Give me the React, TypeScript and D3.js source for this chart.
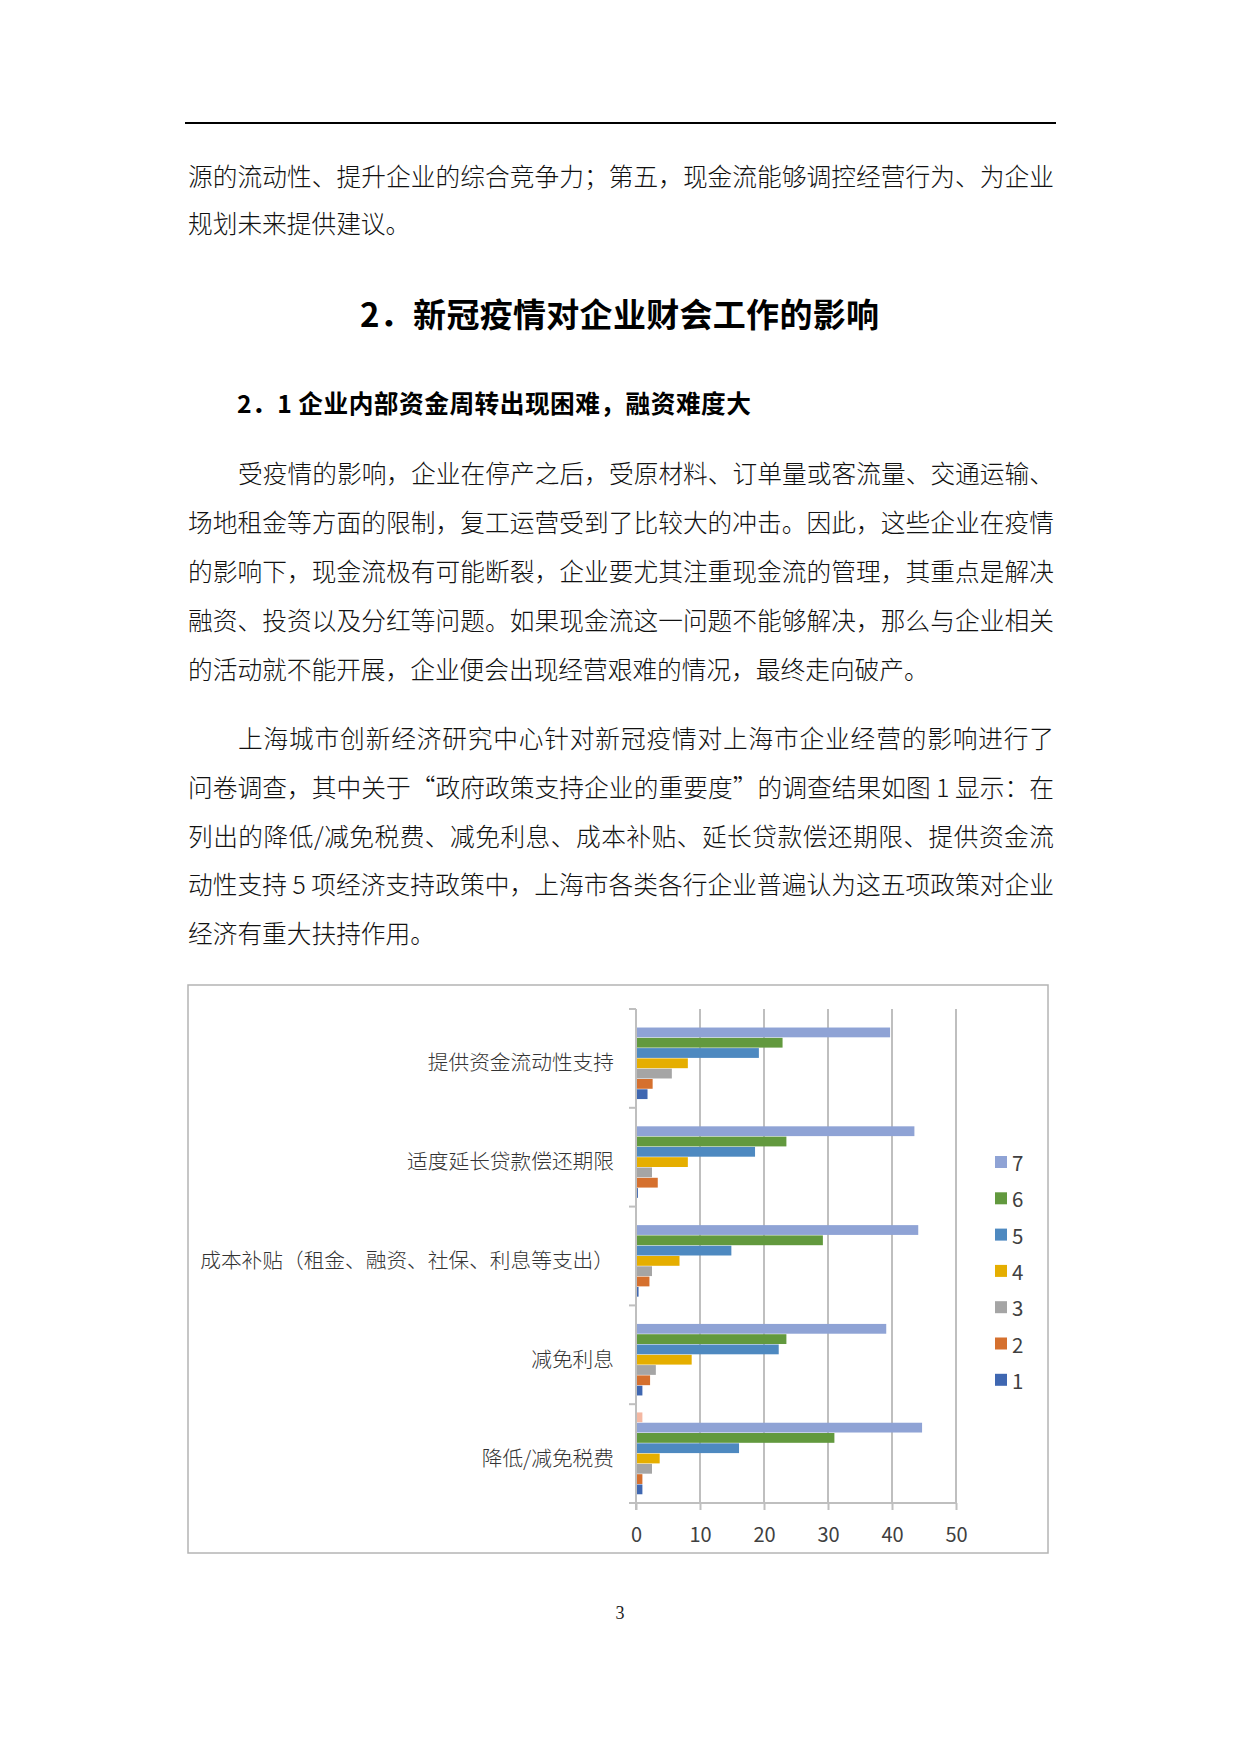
import { useEffect, useRef } from "react";
import * as d3 from "d3";

// categories in sheet order (Excel draws the first one at the bottom)
const categories = [
  "降低/减免税费",
  "减免利息",
  "成本补贴（租金、融资、社保、利息等支出）",
  "适度延长贷款偿还期限",
  "提供资金流动性支持",
];

const seriesNames = ["1", "2", "3", "4", "5", "6", "7", "8"];
const legendNames = ["7", "6", "5", "4", "3", "2", "1"];

const s1 = [1.0, 1.0, 0.4, 0.3, 1.8];
const s2 = [1.0, 2.2, 2.1, 3.4, 2.6];
const s3 = [2.5, 3.1, 2.5, 2.5, 5.6];
const s4 = [3.7, 8.7, 6.8, 8.1, 8.1];
const s5 = [16.1, 22.3, 14.9, 18.6, 19.2];
const s6 = [31.0, 23.5, 29.2, 23.5, 22.9];
const s7 = [44.7, 39.1, 44.1, 43.5, 39.7];
const s8 = [1.0, 0, 0, 0, 0];
const seriesValues = [s1, s2, s3, s4, s5, s6, s7, s8];

const seriesColors = [
  "#3f67b1",
  "#d5702e",
  "#a5a5a5",
  "#e5ae00",
  "#4e89c0",
  "#62993e",
  "#8fa3d5",
  "#f4b8a2",
];

const xTicks = [0, 10, 20, 30, 40, 50];

// page text
const topLines = [
  "源的流动性、提升企业的综合竞争力；第五，现金流能够调控经营行为、为企业",
  "规划未来提供建议。",
];
const heading = "2．新冠疫情对企业财会工作的影响";
const subHeading = "2．1 企业内部资金周转出现困难，融资难度大";
const para1 = [
  "受疫情的影响，企业在停产之后，受原材料、订单量或客流量、交通运输、",
  "场地租金等方面的限制，复工运营受到了比较大的冲击。因此，这些企业在疫情",
  "的影响下，现金流极有可能断裂，企业要尤其注重现金流的管理，其重点是解决",
  "融资、投资以及分红等问题。如果现金流这一问题不能够解决，那么与企业相关",
  "的活动就不能开展，企业便会出现经营艰难的情况，最终走向破产。",
];
const para2 = [
  "上海城市创新经济研究中心针对新冠疫情对上海市企业经营的影响进行了",
  "问卷调查，其中关于“政府政策支持企业的重要度”的调查结果如图 1 显示：在",
  "列出的降低/减免税费、减免利息、成本补贴、延长贷款偿还期限、提供资金流",
  "动性支持 5 项经济支持政策中，上海市各类各行企业普遍认为这五项政策对企业",
  "经济有重大扶持作用。",
];

const W = 1240;
const H = 1754;
const textLeft = 188;
const textRight = 1054;
const bodyFont = "'Noto Sans CJK SC', sans-serif";

const Paragraph = ({ lines, top, step }: { lines: string[]; top: number; step: number }) => (
  <g>
    {lines.map((l, i) => {
      const x = i === 0 ? textLeft + 50 : textLeft;
      const last = i === lines.length - 1;
      return (
        <text
          key={i}
          x={x}
          y={top + i * step}
          dominantBaseline="central"
          fontSize={24.7}
          fontWeight={300}
          fill="#111"
          fontFamily={bodyFont}
          {...(last ? {} : { textLength: textRight - x, lengthAdjust: "spacing" })}
        >
          {l}
        </text>
      );
    })}
  </g>
);

const Chart = () => {
  const ref = useRef<SVGGElement | null>(null);

  useEffect(() => {
    const g = d3.select(ref.current);
    g.selectAll("*").remove();

    const box = { left: 188, top: 985, right: 1048, bottom: 1553 };
    const plot = { left: 636, right: 956, top: 1009, bottom: 1503 };
    const grey = "#bfbfbf";
    const labelColor = "#404040";

    g.append("rect")
      .attr("x", box.left)
      .attr("y", box.top)
      .attr("width", box.right - box.left)
      .attr("height", box.bottom - box.top)
      .attr("fill", "#fff")
      .attr("stroke", "#b4b4b4")
      .attr("stroke-width", 1.5);

    const x = d3.scaleLinear().domain([0, 50]).range([plot.left, plot.right]);
    const topDown = categories.slice().reverse();
    const y = d3
      .scaleBand()
      .domain(topDown)
      .range([plot.top, plot.bottom])
      .padding(0);
    const inner = d3
      .scaleBand()
      .domain(seriesNames.slice().reverse())
      .range([0, y.bandwidth()])
      .paddingInner(0)
      .paddingOuter(0.8);

    // gridlines
    g.append("g")
      .selectAll("line")
      .data(xTicks.slice(1))
      .join("line")
      .attr("x1", (d) => x(d))
      .attr("x2", (d) => x(d))
      .attr("y1", plot.top)
      .attr("y2", plot.bottom)
      .attr("stroke", grey)
      .attr("stroke-width", 2);

    // bars
    seriesNames.forEach((name, si) => {
      g.append("g")
        .selectAll("rect")
        .data(categories.map((c, ci) => ({ c, v: seriesValues[si][ci] })))
        .join("rect")
        .attr("x", x(0))
        .attr("y", (d) => y(d.c)! + inner(name)!)
        .attr("width", (d) => x(d.v) - x(0))
        .attr("height", inner.bandwidth() - 0.5)
        .attr("fill", seriesColors[si]);
    });

    // value axis
    const xAxis = g
      .append("g")
      .attr("transform", `translate(0,${plot.bottom})`)
      .call(d3.axisBottom(x).tickValues(xTicks).tickSize(7).tickPadding(18));
    xAxis.select(".domain").attr("stroke", grey).attr("stroke-width", 2).attr("d", `M${plot.left - 7},0H${plot.right}`);
    xAxis.selectAll(".tick line").attr("stroke", grey).attr("stroke-width", 2);
    xAxis
      .selectAll(".tick text")
      .attr("fill", labelColor)
      .attr("font-size", 20)
      .attr("font-family", bodyFont);

    // category axis
    g.append("line")
      .attr("x1", plot.left)
      .attr("x2", plot.left)
      .attr("y1", plot.top)
      .attr("y2", plot.bottom + 7)
      .attr("stroke", grey)
      .attr("stroke-width", 2);
    const bounds = topDown.map((c) => y(c)!).concat([plot.bottom]);
    g.append("g")
      .selectAll("line")
      .data(bounds)
      .join("line")
      .attr("x1", plot.left - 7)
      .attr("x2", plot.left)
      .attr("y1", (d) => d)
      .attr("y2", (d) => d)
      .attr("stroke", grey)
      .attr("stroke-width", 2);
    g.append("g")
      .selectAll("text")
      .data(topDown)
      .join("text")
      .attr("x", 614)
      .attr("y", (d) => y(d)! + y.bandwidth() / 2 + 3)
      .attr("text-anchor", "end")
      .attr("dominant-baseline", "central")
      .attr("font-size", 20.7)
      .attr("font-weight", 300)
      .attr("font-family", bodyFont)
      .attr("fill", "#333")
      .text((d) => d);

    // legend
    const leg = g
      .append("g")
      .selectAll("g")
      .data(legendNames)
      .join("g")
      .attr("transform", (_, i) => `translate(995,${1162 + i * 36.3})`);
    leg
      .append("rect")
      .attr("x", 0)
      .attr("y", -6)
      .attr("width", 12)
      .attr("height", 12)
      .attr("fill", (d) => seriesColors[+d - 1]);
    leg
      .append("text")
      .attr("x", 17)
      .attr("y", 0)
      .attr("dominant-baseline", "central")
      .attr("font-size", 20.5)
      .attr("font-family", bodyFont)
      .attr("fill", labelColor)
      .text((d) => d);
  }, []);

  return <g ref={ref} />;
};

export default function App() {
  return (
    <svg
      width={W}
      height={H}
      style={{ position: "absolute", left: 0, top: 0, background: "#fff" }}
    >
      <rect width={W} height={H} fill="#fff" />
      <line x1={185} x2={1056} y1={123} y2={123} stroke="#000" strokeWidth={2} />
      {topLines.map((l, i) => (
        <text
          key={i}
          x={textLeft}
          y={175 + i * 47}
          dominantBaseline="central"
          fontSize={24.7}
          fontWeight={300}
          fill="#111"
          fontFamily={bodyFont}
          {...(i === 0 ? { textLength: textRight - textLeft, lengthAdjust: "spacing" } : {})}
        >
          {l}
        </text>
      ))}
      <text
        x={360}
        y={313}
        dominantBaseline="central"
        fontSize={33}
        fontWeight={700}
        fontFamily={bodyFont}
        fill="#000"
        textLength={519}
        lengthAdjust="spacing"
      >
        {heading}
      </text>
      <text
        x={237}
        y={402}
        dominantBaseline="central"
        fontSize={24.7}
        fontWeight={700}
        fontFamily={bodyFont}
        fill="#000"
        textLength={514}
        lengthAdjust="spacing"
      >
        {subHeading}
      </text>
      <Paragraph lines={para1} top={472} step={49} />
      <Paragraph lines={para2} top={737} step={48.8} />
      <Chart />
      <text
        x={620}
        y={1613}
        textAnchor="middle"
        dominantBaseline="central"
        fontSize={18}
        fontFamily="'Liberation Serif', serif"
        fill="#222"
      >
        3
      </text>
    </svg>
  );
}
